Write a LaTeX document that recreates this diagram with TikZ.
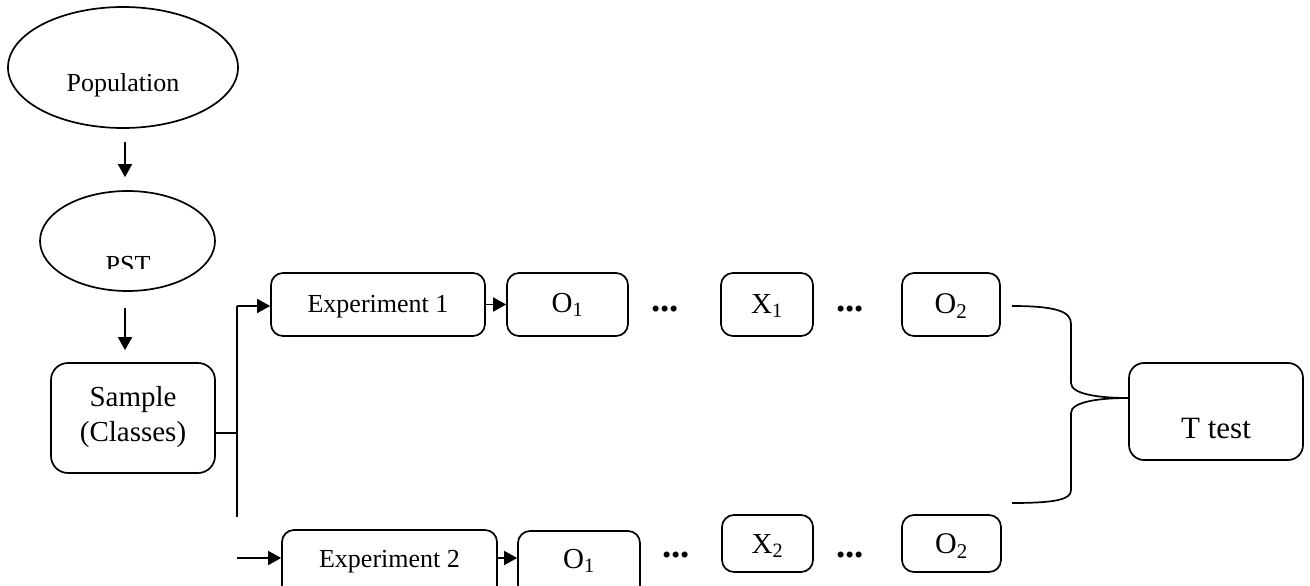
\documentclass[tikz,border=0pt]{standalone}
\usepackage{fontspec}
\setmainfont{Liberation Serif}
\usetikzlibrary{arrows.meta,shapes.geometric,calc}
\newcommand{\fsz}[1]{\fontsize{#1}{#1}\selectfont}
\tikzset{
  ln/.style={line width=1.7pt},
  arr/.style={ln,-{Triangle[length=13pt,width=14pt]}},
  oval/.style={ellipse,draw,ln,inner sep=0pt},
  box/.style={rectangle,draw,ln,rounded corners=12pt,inner sep=0pt},
  txt/.style={anchor=base,inner sep=0pt},
  dotsep/.style={txt,font=\fsz{37}\bfseries}
}
\begin{document}
\begin{tikzpicture}[x=1pt,y=-1pt]
\useasboundingbox (0,0) rectangle (1310,586);
\clip (0,0) rectangle (1310,586);

% ovals
\node[oval,minimum width=230pt,minimum height=121pt] (pop) at (123,67.5) {};
\node[txt,font=\fsz{26}] (poptxt) at (123,92) {Population};
\node[oval,minimum width=175pt,minimum height=100pt] (pst) at (127.5,241) {};
\begin{scope}
  \clip (0,0) rectangle (1310,268.5);
  \node[txt,font=\fsz{26}] (psttxt) at (128,273) {PST};
\end{scope}

% sample
\node[box,rounded corners=17pt,minimum width=164pt,minimum height=110pt] (sample) at (133,418) {};
\node[txt,font=\fsz{29}] (samp1) at (133,406) {Sample};
\node[txt,font=\fsz{29}] (samp2) at (133,441) {(Classes)};

% first group
\node[box,minimum width=214pt,minimum height=63pt] (exp1) at (378,304.5) {};
\node[txt,font=\fsz{26}] (exp1t) at (378,312) {Experiment 1};
\node[box,minimum width=121pt,minimum height=63pt] (o11) at (567.5,304.5) {};
\node[txt,font=\fsz{29}] (o11t) at (567.5,312) {O\textsubscript{1}};
\node[dotsep] (d11) at (665,311) {...};
\node[box,minimum width=92pt,minimum height=63pt] (x1) at (767,304.5) {};
\node[txt,font=\fsz{29}] (x1t) at (767,313) {X\textsubscript{1}};
\node[dotsep] (d12) at (850,311) {...};
\node[box,minimum width=98pt,minimum height=63pt] (o21) at (951,304.5) {};
\node[txt,font=\fsz{30}] (o21t) at (951,313) {O\textsubscript{2}};

% second group
\node[box,minimum width=215pt,minimum height=70pt] (exp2) at (389.5,565) {};
\node[txt,font=\fsz{26}] (exp2t) at (389.5,567) {Experiment 2};
\node[box,minimum width=122pt,minimum height=69pt] (o12) at (579,565.5) {};
\node[txt,font=\fsz{29}] (o12t) at (579,568) {O\textsubscript{1}};
\node[dotsep] (d21) at (676,557) {...};
\node[box,minimum width=91pt,minimum height=57pt] (x2) at (767.5,543.5) {};
\node[txt,font=\fsz{29}] (x2t) at (767.5,553) {X\textsubscript{2}};
\node[dotsep] (d22) at (850,557) {...};
\node[box,minimum width=99pt,minimum height=57pt] (o22) at (951.5,543.5) {};
\node[txt,font=\fsz{30}] (o22t) at (951.5,553) {O\textsubscript{2}};

% t test
\node[box,rounded corners=15pt,minimum width=174pt,minimum height=97pt] (ttest) at (1216,411.5) {};
\node[txt,font=\fsz{31}] (ttestt) at (1216,438) {T test};

% vertical flow
\draw[arr,shorten <=13pt,shorten >=13pt] ([xshift=2pt]pop.south) -- ([xshift=2pt]pop.south |- pst.north);
\draw[arr,shorten <=16pt,shorten >=12pt] ([xshift=-2.5pt]pst.south) -- ([xshift=-2.5pt]pst.south |- sample.north);

% split to both groups
\coordinate (jt) at (237,306);
\coordinate (jm) at (237,433);
\coordinate (jb) at (237,517);
\coordinate (jin) at (237,558);
\draw[ln] (sample.east |- jm) -- (jm);
\draw[ln] (jb) -- (jt);
\draw[arr] (jt) -- (exp1.west |- jt);
\draw[arr] (jin) -- (exp2.west |- jin);

\draw[arr] (exp1.east) -- (o11.west);
\draw[arr] ([yshift=7pt]exp2.east) -- ([yshift=7pt]exp2.east -| o12.west);

% brace joining the groups
\coordinate (bt) at (1012,306);
\coordinate (bb) at (1012,503);
\coordinate (tip) at ([yshift=13.5pt]ttest.west);
\draw[ln] (bt) .. controls (1058,306) and (1071,312) .. (1071,324)
  -- (1071,383) .. controls (1071,394) and (1098,398) .. (tip);
\draw[ln] (tip) .. controls (1098,398) and (1071,402) .. (1071,413)
  -- (1071,490) .. controls (1071,499) and (1058,503) .. (bb);
\end{tikzpicture}
\end{document}
